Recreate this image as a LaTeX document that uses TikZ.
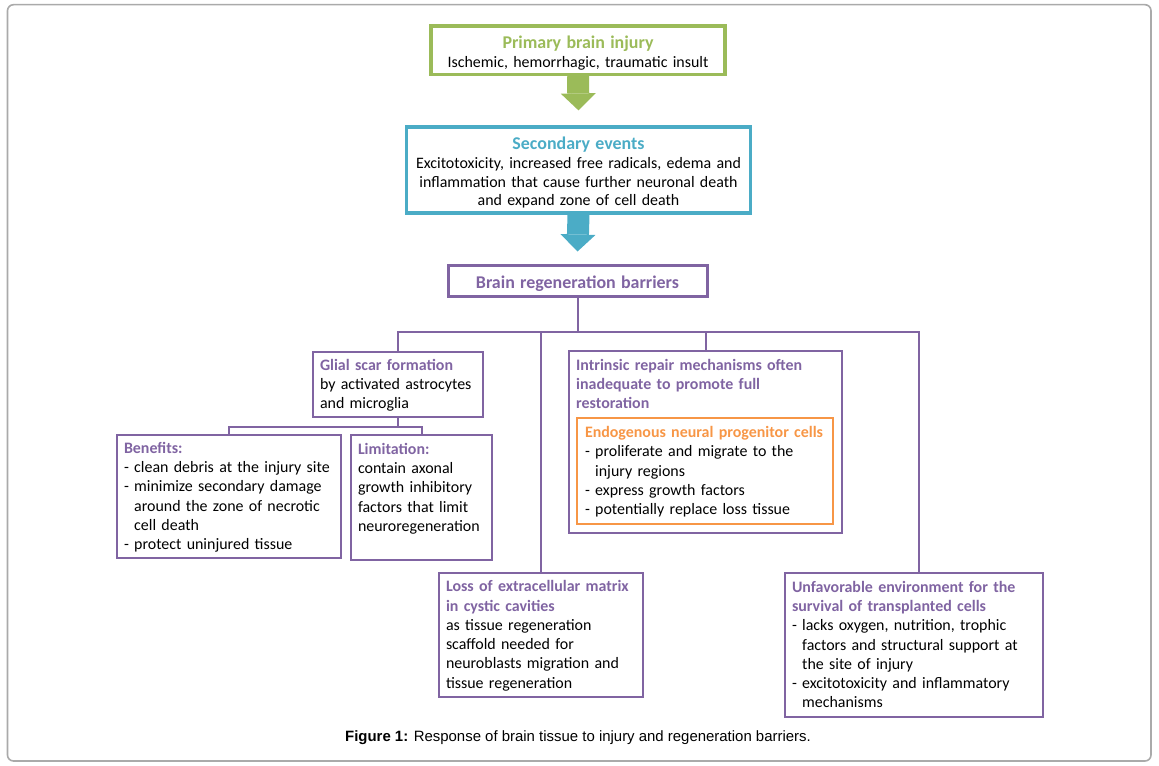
\documentclass[tikz,border=0pt]{standalone}
\usepackage{fontspec}
\setmainfont{Carlito}
\newfontfamily\capfont{Liberation Sans}
\usepackage{xcolor}
\usepackage{tikz}
\definecolor{injgreen}{RGB}{155,187,89}
\definecolor{evtblue}{RGB}{75,172,198}
\definecolor{brainpurple}{RGB}{128,100,162}
\definecolor{progorange}{RGB}{247,150,70}
\definecolor{framegray}{RGB}{170,170,170}
\usetikzlibrary{arrows.meta, positioning}

\begin{document}
\begin{tikzpicture}[
    x=1bp, y=-1bp,
    font=\fontsize{16}{19.3}\selectfont,
    toppad/.style={execute at begin node={\rule{0pt}{20.5bp}}, execute at end node={\rule[-5bp]{0pt}{5bp}}},
    lowpad/.style={execute at begin node={\rule{0pt}{15bp}}, execute at end node={\rule[-5bp]{0pt}{5bp}}},
    event/.style={rectangle, draw=#1, line width=3.2bp, align=center, inner xsep=7bp, inner ysep=0pt, toppad, font=\fontsize{16}{18.7}\selectfont},
    barrier/.style={rectangle, draw=brainpurple, line width=2.6bp, align=left, inner xsep=7bp, inner ysep=0pt, lowpad},
    progbox/.style={rectangle, draw=progorange, line width=2bp, align=left, inner xsep=8bp, inner ysep=0pt, lowpad},
    head/.style={font=\fontsize{18}{18.7}\selectfont\bfseries, text=#1},
    link/.style={draw=brainpurple, line width=2bp},
    blockarrow/.style={draw=#1, line width=22bp, -{Triangle[width=35bp, length=17bp, line width=0pt]}}
]
    \useasboundingbox (0,0) rectangle (1159,766);
    \draw[framegray, line width=1.6bp, rounded corners=6bp] (7.5,4.7) rectangle (1151,761);

    \node[event=injgreen, text width=280bp, minimum height=48.5bp] (primary) at (578,50.25)
        {{\fontsize{18}{18.7}\selectfont\bfseries\color{injgreen}Primary brain injury}\\
         Ischemic, hemorrhagic, traumatic insult};

    \node[event=evtblue, text width=330bp, minimum height=86bp] (secondary) at (578.5,170)
        {{\fontsize{18}{18.7}\selectfont\bfseries\color{evtblue}Secondary events}\\
         Excitotoxicity, increased free radicals, edema and\\
         inflammation that cause further neuronal death\\
         and expand zone of cell death};

    \node[event=brainpurple, line width=3bp, text width=245bp, minimum height=31bp] (barriers) at (577.5,280.5)
        {{\fontsize{18}{18.7}\selectfont\bfseries\color{brainpurple}Brain regeneration barriers}};

    \draw[blockarrow=injgreen] (primary.south) -- ([yshift=15bp]secondary.north);
    \draw[blockarrow=evtblue] (secondary.south) -- ([yshift=12bp]barriers.north);

    \node[barrier, text width=156bp, minimum height=65bp] (glial) at (398,384.5)
        {\textcolor{brainpurple}{\bfseries Glial scar formation}\\
         by activated astrocytes\\
         and microglia};

    \node[barrier, text width=210bp, minimum height=123bp] (benefits) at (229,496.5)
        {\textcolor{brainpurple}{\bfseries Benefits:}\\
         - clean debris at the injury site\\
         - minimize secondary damage\\
         \phantom{- }around the zone of necrotic\\
         \phantom{- }cell death\\
         - protect uninjured tissue};

    \node[barrier, text width=127bp, minimum height=125bp] (limits) at (421.5,497.5)
        {\textcolor{brainpurple}{\bfseries Limitation:}\\
         contain axonal\\
         growth inhibitory\\
         factors that limit\\
         neuroregeneration\\
         \mbox{}};

    \node[barrier, minimum width=273bp, minimum height=182bp] (intrinsic) at (705.5,442) {};
    \node[lowpad, anchor=north west, inner sep=0pt, align=left, text width=255bp, text=brainpurple, font=\fontsize{16}{19.3}\selectfont\bfseries] (intrtitle) at (576,355)
        {Intrinsic repair mechanisms often\\
         inadequate to promote full\\
         restoration};
    \node[progbox, text width=240bp, minimum height=106bp] (progenitor) at (705,471)
        {\textcolor{progorange}{\bfseries Endogenous neural progenitor cells}\\
         - proliferate and migrate to the\\
         \phantom{- }injury regions\\
         - express growth factors\\
         - potentially replace loss tissue};

    \node[barrier, text width=190bp, minimum height=124bp] (loss) at (541,635)
        {\textcolor{brainpurple}{\bfseries Loss of extracellular matrix}\\
         \textcolor{brainpurple}{\bfseries in cystic cavities}\\
         as tissue regeneration\\
         scaffold needed for\\
         neuroblasts migration and\\
         tissue regeneration};

    \node[barrier, text width=244bp, minimum height=144bp] (unfav) at (914,645)
        {\textcolor{brainpurple}{\bfseries Unfavorable environment for the}\\
         \textcolor{brainpurple}{\bfseries survival of transplanted cells}\\
         - lacks oxygen, nutrition, trophic\\
         \phantom{- }factors and structural support at\\
         \phantom{- }the site of injury\\
         - excitotoxicity and inflammatory\\
         \phantom{- }mechanisms};

    \coordinate (bus) at (0,332);
    \coordinate (fork) at (0,427);
    \draw[link] (barriers.south) -- (barriers.south |- bus);
    \draw[link] (glial.north) |- ([xshift=5bp]unfav.north |- bus) -- ([xshift=5bp]unfav.north);
    \draw[link] (loss.north) -- (loss.north |- bus);
    \draw[link] (intrinsic.north) -- (intrinsic.north |- bus);
    \draw[link] (glial.south) -- (glial.south |- fork);
    \draw[link] (benefits.north) |- (limits.north |- fork) -- (limits.north);

    \node[anchor=base, font=\capfont\fontsize{15}{18}\selectfont] (caption) at (578,741)
        {\textbf{Figure 1:} Response of brain tissue to injury and regeneration barriers.};
\end{tikzpicture}
\end{document}
